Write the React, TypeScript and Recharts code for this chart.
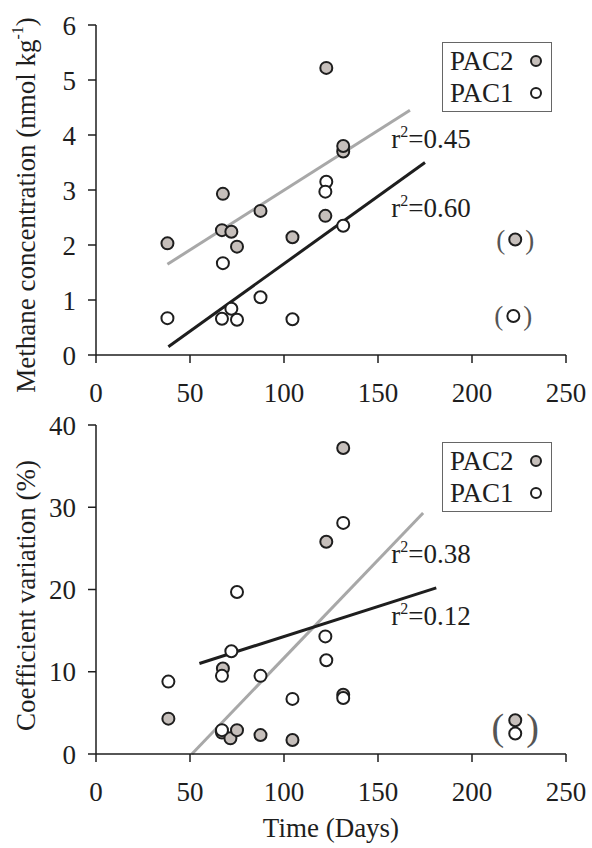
import React from 'react';
import { ScatterChart, Scatter, XAxis, YAxis, ReferenceLine, ReferenceDot, Legend } from 'recharts';

const FONT = '"Liberation Serif", "Times New Roman", serif';
const FS = 27;
const INK = '#1e1e1e';
const GREY_FILL = '#c6bfbb';
const GREY_LINE = '#a8a8a8';

const TIME_TICKS = [0, 50, 100, 150, 200, 250];
const CH4_TICKS = [0, 1, 2, 3, 4, 5, 6];
const CV_TICKS = [0, 10, 20, 30, 40];

const SERIES_NAMES = ['PAC2', 'PAC1'];

// (a) methane concentration, nmol kg-1
const pac2Ch4 = [
  { t: 38, v: 2.03 }, { t: 67.5, v: 2.93 }, { t: 67, v: 2.27 }, { t: 72, v: 2.24 },
  { t: 75, v: 1.97 }, { t: 87.5, v: 2.62 }, { t: 104.5, v: 2.14 }, { t: 122.5, v: 5.22 },
  { t: 122, v: 2.53 }, { t: 131.5, v: 3.7 }, { t: 131.5, v: 3.8 }, { t: 223, v: 2.1 },
];
const pac1Ch4 = [
  { t: 38, v: 0.67 }, { t: 67.5, v: 1.67 }, { t: 67, v: 0.66 }, { t: 72, v: 0.84 },
  { t: 75, v: 0.64 }, { t: 87.5, v: 1.05 }, { t: 104.5, v: 0.65 }, { t: 122.5, v: 3.15 },
  { t: 122, v: 2.97 }, { t: 131.5, v: 2.35 }, { t: 222, v: 0.71 },
];
const fitPac2Ch4 = [{ t: 38, v: 1.65 }, { t: 167, v: 4.45 }];
const fitPac1Ch4 = [{ t: 38.5, v: 0.15 }, { t: 175, v: 3.5 }];
const r2Ch4 = [{ t: 157, v: 3.93, text: '0.45' }, { t: 157, v: 2.67, text: '0.60' }];
const outliersCh4 = [{ t: 223, v: 2.1 }, { t: 222, v: 0.71 }];

// (b) coefficient of variation, %
const pac2Cv = [
  { t: 38.5, v: 4.3 }, { t: 67.5, v: 10.4 }, { t: 67, v: 2.6 }, { t: 71.5, v: 1.9 },
  { t: 75, v: 2.9 }, { t: 87.5, v: 2.3 }, { t: 104.5, v: 1.7 }, { t: 122.5, v: 25.8 },
  { t: 131.5, v: 37.2 }, { t: 131.5, v: 7.2 }, { t: 223, v: 4.1 },
];
const pac1Cv = [
  { t: 38.5, v: 8.8 }, { t: 67, v: 9.5 }, { t: 67, v: 2.9 }, { t: 72, v: 12.5 },
  { t: 75, v: 19.7 }, { t: 87.5, v: 9.5 }, { t: 104.5, v: 6.7 }, { t: 122, v: 14.3 },
  { t: 122.5, v: 11.4 }, { t: 131.5, v: 28.1 }, { t: 131.5, v: 6.8 }, { t: 223, v: 2.5 },
];
const fitPac2Cv = [{ t: 51, v: 0 }, { t: 174, v: 29.3 }];
const fitPac1Cv = [{ t: 55, v: 11.0 }, { t: 181, v: 20.2 }];
const r2Cv = [{ t: 157, v: 24.3, text: '0.38' }, { t: 157, v: 16.8, text: '0.12' }];
const outliersCv = [{ t: 223, v: 3.3 }];

const tickStyle = { fontFamily: FONT, fontSize: FS, fill: INK };

const dot = (fill: string) => (p: any) => (
  <circle cx={p.cx} cy={p.cy} r={6} fill={fill} stroke={INK} strokeWidth={2} />
);

const r2Shape = (text: string) => (p: any) => (
  <text x={p.cx} y={p.cy} dominantBaseline="central" fontFamily={FONT} fontSize={FS} fill={INK}>
    r<tspan dy={-8} fontSize={16}>2</tspan>
    <tspan dy={8}>={text}</tspan>
  </text>
);

const parenShape = (size: number, gap: number) => (p: any) => (
  <g fontFamily={FONT} fontSize={size} fill="#555" dominantBaseline="central">
    <text x={p.cx - gap} y={p.cy} textAnchor="end">(</text>
    <text x={p.cx + gap} y={p.cy} textAnchor="start">)</text>
  </g>
);

const legendBox = () => (
  <div style={{ border: '1px solid #666', background: '#fff', width: 108, padding: '2px 0', fontFamily: FONT, fontSize: FS, color: INK }}>
    {SERIES_NAMES.map((name, i) => (
      <div key={name} style={{ display: 'flex', alignItems: 'center', height: 32, paddingLeft: 7 }}>
        <span style={{ width: 78 }}>{name}</span>
        <svg width={16} height={16}>
          <circle cx={8} cy={8} r={5} fill={i === 0 ? GREY_FILL : '#fff'} stroke={INK} strokeWidth={2} />
        </svg>
      </div>
    ))}
  </div>
);

const yTitle = (shift: number, body: React.ReactNode) => (props: any) => {
  const vb = props.viewBox || { y: 25, height: 330 };
  const cy = vb.y + vb.height / 2 + shift;
  return (
    <text x={26} y={cy} transform={`rotate(-90 26 ${cy})`} textAnchor="middle" dominantBaseline="central"
      fontFamily={FONT} fontSize={FS} fill={INK}>
      {body}
    </text>
  );
};

const panelTag = (tag: string) => (props: any) => {
  const vb = props.viewBox || { x: 96, y: 25 };
  return (
    <text x={vb.x + 5} y={vb.y + 35} fontFamily={FONT} fontSize={FS} fill={INK}>{tag}</text>
  );
};

const xTitle = (props: any) => {
  const vb = props.viewBox || { x: 96, y: 354, width: 470 };
  return (
    <text x={vb.x + vb.width / 2} y={vb.y + 83} textAnchor="middle" fontFamily={FONT} fontSize={FS} fill={INK}>
      Time (Days)
    </text>
  );
};

interface PanelProps {
  height: number;
  margin: { top: number; right: number; left: number; bottom: number };
  xHeight: number;
  yTicks: number[];
  pac2: { t: number; v: number }[];
  pac1: { t: number; v: number }[];
  fit2: { t: number; v: number }[];
  fit1: { t: number; v: number }[];
  r2: { t: number; v: number; text: string }[];
  outliers: { t: number; v: number }[];
  parenSize: number;
  parenGap: number;
  tag: string;
  title: (props: any) => React.ReactNode;
  withXTitle?: boolean;
}

function Panel(p: PanelProps) {
  const yMax = p.yTicks[p.yTicks.length - 1];
  const axisLine = { stroke: INK, strokeWidth: 1.5 };
  return (
    <ScatterChart width={592} height={p.height} margin={p.margin}>
      <XAxis xAxisId="b" dataKey="t" type="number" domain={[0, 250]} ticks={TIME_TICKS}
        height={p.xHeight} tickSize={8} tickMargin={20} tick={tickStyle}
        axisLine={axisLine} tickLine={axisLine} interval={0}
        label={p.withXTitle ? { content: xTitle } : undefined} />
      <XAxis xAxisId="top" orientation="top" type="number" domain={[0, 250]} ticks={TIME_TICKS}
        height={0} mirror tick={false} tickSize={8} axisLine={axisLine} tickLine={axisLine}
        allowDataOverflow label={{ content: panelTag(p.tag) }} />
      <YAxis yAxisId="l" dataKey="v" type="number" domain={[0, yMax]} ticks={p.yTicks}
        width={96} tickSize={8} tickMargin={12} tick={tickStyle} interval={0}
        axisLine={axisLine} tickLine={axisLine} label={{ content: p.title }} />
      <YAxis yAxisId="r" orientation="right" type="number" domain={[0, yMax]} ticks={p.yTicks}
        width={0} mirror tick={false} tickSize={8} axisLine={axisLine} tickLine={axisLine}
        allowDataOverflow />
      <ReferenceLine xAxisId="b" yAxisId="l" segment={p.fit2.map((d) => ({ x: d.t, y: d.v }))}
        stroke={GREY_LINE} strokeWidth={3} ifOverflow="visible" />
      <ReferenceLine xAxisId="b" yAxisId="l" segment={p.fit1.map((d) => ({ x: d.t, y: d.v }))}
        stroke={INK} strokeWidth={3} ifOverflow="visible" />
      <Scatter name={SERIES_NAMES[0]} xAxisId="b" yAxisId="l" data={p.pac2} fill={GREY_FILL}
        shape={dot(GREY_FILL)} isAnimationActive={false} />
      <Scatter name={SERIES_NAMES[1]} xAxisId="b" yAxisId="l" data={p.pac1} fill="#fff"
        shape={dot('#fff')} isAnimationActive={false} />
      {p.r2.map((d) => (
        <ReferenceDot key={d.text} xAxisId="b" yAxisId="l" x={d.t} y={d.v} r={0} shape={r2Shape(d.text)} />
      ))}
      {p.outliers.map((d, i) => (
        <ReferenceDot key={`o-${i}`} xAxisId="b" yAxisId="l" x={d.t} y={d.v} r={0}
          shape={parenShape(p.parenSize, p.parenGap)} />
      ))}
      <Legend layout="vertical" align="center" verticalAlign="middle" content={legendBox}
        wrapperStyle={{ left: 442, top: p.margin.top + 17, width: 110, height: 70 }} />
    </ScatterChart>
  );
}

export default function App() {
  return (
    <div style={{ position: 'absolute', left: 0, top: 0, width: 592, height: 848, background: '#fff' }}>
      <div style={{ position: 'absolute', left: 0, top: 0 }}>
        <Panel height={410} margin={{ top: 25, right: 26, left: 0, bottom: 15 }} xHeight={40}
          yTicks={CH4_TICKS} pac2={pac2Ch4} pac1={pac1Ch4} fit2={fitPac2Ch4} fit1={fitPac1Ch4}
          r2={r2Ch4} outliers={outliersCh4} parenSize={FS} parenGap={10} tag="(a)"
          title={yTitle(15, <>Methane concentration (nmol kg<tspan dy={-9} fontSize={16}>-1</tspan><tspan dy={9}>)</tspan></>)} />
      </div>
      <div style={{ position: 'absolute', left: 0, top: 400 }}>
        <Panel height={448} margin={{ top: 25, right: 26, left: 0, bottom: 14 }} xHeight={80}
          yTicks={CV_TICKS} pac2={pac2Cv} pac1={pac1Cv} fit2={fitPac2Cv} fit1={fitPac1Cv}
          r2={r2Cv} outliers={outliersCv} parenSize={38} parenGap={11} tag="(b)" withXTitle
          title={yTitle(6, <>Coefficient variation (%)</>)} />
      </div>
    </div>
  );
}
